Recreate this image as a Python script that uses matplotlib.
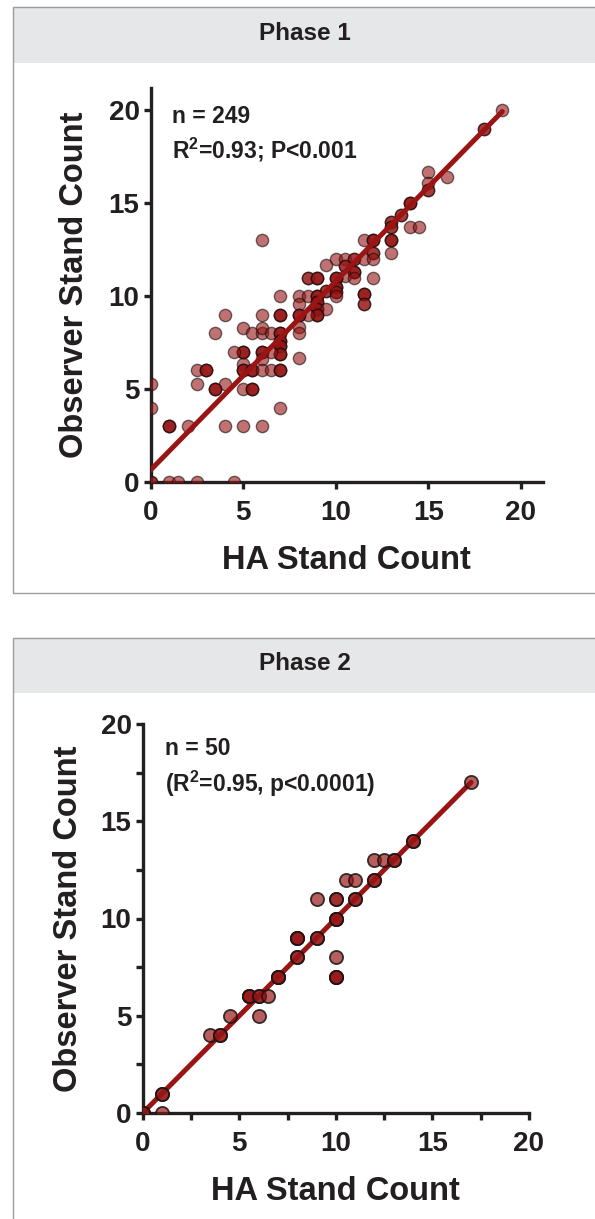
import numpy as np
import matplotlib
matplotlib.use('Agg')
import matplotlib.pyplot as plt
from matplotlib.patches import Rectangle
from matplotlib.ticker import MultipleLocator

plt.rcParams['font.family'] = ['Liberation Sans', 'DejaVu Sans']
plt.rcParams['font.weight'] = 'bold'
plt.rcParams['mathtext.default'] = 'regular'

# Phase 1: HA count, observer count, number of overlapping points at that spot
ha1 = [19, 18, 15, 15, 15, 16, 14, 13.5, 13, 13, 14, 14.5, 11.5, 12, 13, 13, 12, 6,
       10, 10.5, 11, 11.5, 12, 9.5, 10.5, 11, 10.5, 8.5, 9, 10, 11, 12, 10, 9.5, 10, 10,
       11.5, 11.5, 7, 8, 8.5, 9, 8, 9, 9, 9.5, 9, 8.5, 8, 7, 6, 4, 8, 5, 5.5, 6, 6, 6.5,
       7, 8, 3.5, 7, 7, 7, 6, 5, 4.5, 6.5, 6, 5, 8, 5, 5.5, 6, 6.5, 7, 2.5, 3, 2.5, 4,
       3.5, 5, 5.5, 0, 0, 7, 1, 2, 4, 5, 6, 0, 1, 1.5, 2.5, 4.5]
obs1 = [20, 19, 16.7, 16.1, 15.7, 16.4, 15, 14.35, 14, 13.7, 13.7, 13.7, 13, 13, 13, 12.3, 12.3, 13,
        12, 12, 12, 12, 12, 11.7, 11.6, 11.3, 11.1, 11, 11, 11, 11, 11, 10.5, 10.3, 10.2, 10,
        10.1, 9.6, 10, 10, 10, 10, 9.6, 9.7, 9.3, 9.3, 9, 9, 9, 9, 9, 9, 8.35, 8.3, 8, 8, 8.3, 8,
        8, 8, 8, 7.6, 7.3, 6.9, 7, 7, 7, 7, 6.6, 6.35, 6.65, 6, 6, 6, 6, 6, 6, 6, 5.3, 5.3,
        5, 5, 5, 5.3, 4, 4, 3, 3, 3, 3, 3, 0, 0, 0, 0, 0]
rep1 = [1, 2, 1, 1, 2, 1, 3, 2, 2, 2, 1, 1, 1, 3, 3, 1, 2, 1,
        1, 1, 2, 1, 1, 1, 2, 3, 1, 2, 3, 3, 1, 1, 3, 2, 2, 1,
        3, 2, 1, 1, 1, 3, 1, 3, 3, 1, 3, 1, 3, 3, 1, 1, 1, 1, 1, 1, 1, 1,
        3, 1, 1, 3, 3, 3, 3, 3, 1, 1, 1, 1, 1, 3, 3, 1, 1, 3, 1, 3, 1, 1,
        3, 1, 3, 1, 1, 1, 3, 1, 1, 1, 1, 2, 1, 1, 1, 1]
fit1 = [0.65, 1.015]   # intercept, slope

# Phase 2
ha2 = [17, 14, 12, 12.5, 13, 12, 10.5, 11, 11, 9, 10, 10, 9, 8, 8, 10, 10, 7,
       5.5, 6, 6.5, 6, 4.5, 3.5, 4, 1, 1, 0]
obs2 = [17, 14, 13, 13, 13, 12, 12, 12, 11, 11, 11, 10, 9, 9, 8, 8, 7, 7,
        6, 6, 6, 5, 5, 4, 4, 1, 0, 0]
rep2 = [1, 2, 1, 1, 2, 2, 1, 1, 2, 1, 2, 3, 2, 3, 2, 1, 3, 3,
        3, 2, 1, 1, 1, 1, 2, 2, 1, 3]
fit2 = [0.0, 1.0]

W, H = 595, 1219
ink = '#231f20'
red = (0.59, 0.08, 0.08)
line_red = '#9b1414'

fig = plt.figure(figsize=(W / 100, H / 100), dpi=100)


def fx(px):
    return px / W


def fy(py):
    return 1 - py / H


def panel(top, bottom, title):
    # outer box, grey header band and title
    fig.patches.append(Rectangle((fx(12.7), fy(bottom)), fx(700), fy(top) - fy(bottom),
                                 transform=fig.transFigure, facecolor='none',
                                 edgecolor='#9d9d9d', linewidth=1.0, zorder=-2))
    fig.patches.append(Rectangle((fx(13.2), fy(62.7 - 7.3 + top)), fx(700),
                                 fy(top + 0.5) - fy(62.7 - 7.3 + top),
                                 transform=fig.transFigure, facecolor='#e6e7e8',
                                 edgecolor='none', zorder=-3))
    fig.text(fx(305), fy(top + 26), title, ha='center', va='center',
             fontsize=17.5, fontweight='bold', color=ink)


panel(7.3, 593, 'Phase 1')
panel(638, 1400, 'Phase 2')


def style(ax, lim, minor):
    for s in ['top', 'right']:
        ax.spines[s].set_visible(False)
    for s in ['left', 'bottom']:
        ax.spines[s].set_linewidth(2.4)
        ax.spines[s].set_color(ink)
    ax.set_xlim(0, lim)
    ax.set_ylim(0, lim)
    ax.xaxis.set_major_locator(MultipleLocator(5))
    ax.yaxis.set_major_locator(MultipleLocator(5))
    if minor:
        ax.xaxis.set_minor_locator(MultipleLocator(2.5))
        ax.yaxis.set_minor_locator(MultipleLocator(2.5))
    ax.tick_params(which='both', length=5, width=2.4, color=ink,
                   labelsize=20, labelcolor=ink)
    ax.tick_params(axis='x', pad=8)
    ax.tick_params(axis='y', pad=3)
    for lab in ax.get_xticklabels() + ax.get_yticklabels():
        lab.set_fontweight('bold')
    ax.set_xlabel('HA Stand Count', fontsize=23.5, fontweight='bold', color=ink, va='center')
    ax.set_ylabel('Observer Stand Count', fontsize=23.5, fontweight='bold', color=ink, va='center')
    ax.patch.set_alpha(0)


# Phase 1 axes
ax1 = fig.add_axes([fx(150.7), fy(482), (543 - 150.7) / W, (482 - 88) / H])
style(ax1, 21.2, False)
x1 = np.repeat(ha1, rep1)
y1 = np.repeat(obs1, rep1)
ax1.scatter(x1, y1, s=78, facecolor=red + (0.6,), edgecolor=(0.1, 0.05, 0.05, 0.6),
            linewidth=1.0, zorder=3)
xs = np.array([min(ha1), max(ha1)])
ax1.plot(xs, fit1[0] + fit1[1] * xs, color=line_red, lw=3.6, solid_capstyle='round', zorder=4)
ax1.text(0.054, 0.911, 'n = 249', transform=ax1.transAxes, fontsize=16.5,
         fontweight='bold', color=ink, va='baseline')
ax1.text(0.054, 0.822, 'R$^2$=0.93; P<0.001', transform=ax1.transAxes, fontsize=16.5,
         fontweight='bold', color=ink, va='baseline')
ax1.yaxis.set_label_coords(-0.193, 0.5)
ax1.xaxis.set_label_coords(0.5, -0.198)

# Phase 2 axes
ax2 = fig.add_axes([fx(142.7), fy(1113), (529 - 142.7) / W, (1113 - 724) / H])
style(ax2, 20, True)
x2 = np.repeat(ha2, rep2)
y2 = np.repeat(obs2, rep2)
ax2.scatter(x2, y2, s=90, facecolor=red + (0.68,), edgecolor=(0.1, 0.08, 0.08, 0.85),
            linewidth=1.3, zorder=3)
xs2 = np.array([min(ha2), max(ha2)])
ax2.plot(xs2, fit2[0] + fit2[1] * xs2, color=line_red, lw=3.6, solid_capstyle='round', zorder=2)
ax2.text(0.058, 0.920, 'n = 50', transform=ax2.transAxes, fontsize=16.5,
         fontweight='bold', color=ink, va='baseline')
ax2.text(0.058, 0.826, '(R$^2$=0.95, p<0.0001)', transform=ax2.transAxes, fontsize=16.5,
         fontweight='bold', color=ink, va='baseline')
ax2.yaxis.set_label_coords(-0.192, 0.5)
ax2.xaxis.set_label_coords(0.5, -0.203)

fig.savefig('out.png', dpi=100)
